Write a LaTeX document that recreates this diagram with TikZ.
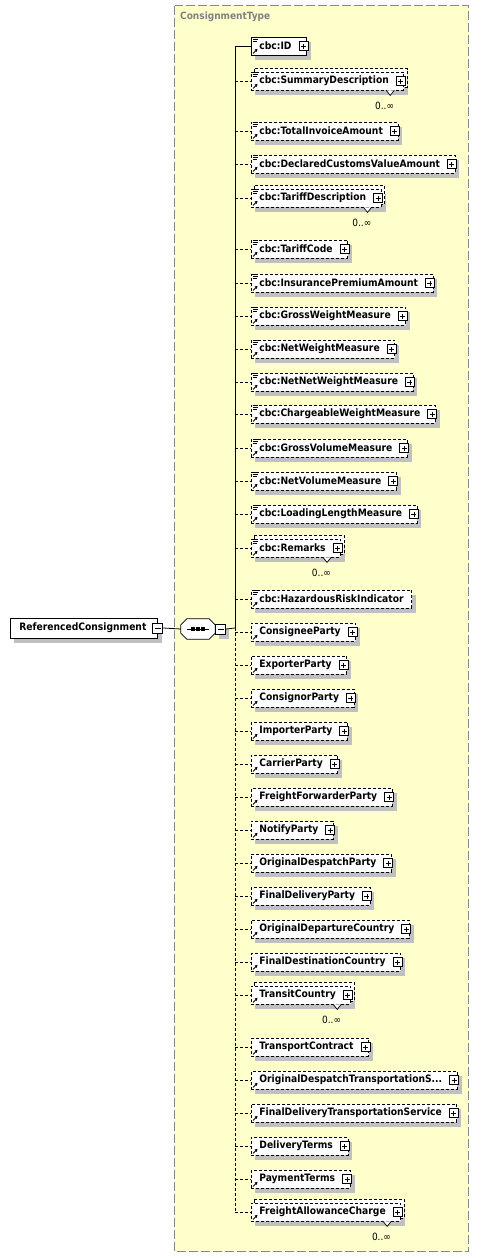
\documentclass[tikz,border=0pt]{standalone}
\usepackage{fontspec}
\setmainfont{DejaVu Sans Condensed}
\usetikzlibrary{arrows.meta}
\definecolor{ybg}{RGB}{255,255,204}
\definecolor{yborder}{RGB}{136,136,136}
\definecolor{shadowc}{RGB}{192,192,192}
\definecolor{titlec}{RGB}{128,128,128}
\pgfdeclarelayer{bgl}\pgfdeclarelayer{shadowl}\pgfdeclarelayer{backl}
\pgfsetlayers{bgl,shadowl,backl,main}
\newcommand\elfont{\fontsize{10.2}{12}\selectfont\bfseries}
\tikzset{
 elbox/.style={draw, fill=white, line width=0.8pt, anchor=west, minimum height=18pt, inner xsep=0pt, inner ysep=0pt, font=\elfont},
 dsh/.style={dash pattern=on 3pt off 2pt},
 conn/.style={line width=0.8pt},
 pmbox/.style={draw, fill=white, line width=0.8pt, minimum size=9pt, inner sep=0pt},
 plusbox/.style={pmbox, path picture={\draw[line width=0.8pt] ([xshift=2pt]path picture bounding box.west) -- ([xshift=-2pt]path picture bounding box.east); \draw[line width=0.8pt] ([yshift=2pt]path picture bounding box.south) -- ([yshift=-2pt]path picture bounding box.north);}},
 minusbox/.style={pmbox, path picture={\draw[line width=0.8pt] ([xshift=2pt]path picture bounding box.west) -- ([xshift=-2pt]path picture bounding box.east);}},
 multlab/.style={font=\fontsize{10}{12}\selectfont, inner sep=0pt, anchor=east},
}
% name, y, text, border style, plus(1/0), eq icon(1/0), multi(1/0)
\newcommand\xsdEl[7]{%
 \node[elbox,#4] (#1) at (251,#2) {\hspace*{8pt}#3\hspace*{\ifnum#5=1 15pt\else 8pt\fi}};
 \begin{pgfonlayer}{shadowl}\fill[shadowc] ([shift={(4pt,-5pt)}]#1.north west) rectangle ([shift={(4pt,-5pt)}]#1.south east);\end{pgfonlayer}
 \ifnum#7=1
  \begin{pgfonlayer}{backl}\draw[fill=white,line width=0.8pt,#4] ([shift={(3pt,3pt)}]#1.north west) rectangle ([shift={(3pt,3pt)}]#1.south east);\end{pgfonlayer}
  \draw[fill=white, line width=0.7pt] ([xshift=-18pt]#1.south east) -- ([shift={(-14pt,-5pt)}]#1.south east) -- ([xshift=-10pt]#1.south east);
  \node[multlab] (#1m) at ([shift={(-10pt,-15pt)}]#1.south east) {0..∞};
 \fi
 \ifnum#6=1
  \draw[line width=0.8pt] ([shift={(1.5pt,-1pt)}]#1.north west) -- ++(5pt,0pt) ([shift={(1.5pt,-3pt)}]#1.north west) -- ++(5pt,0pt) ([shift={(1.5pt,-5pt)}]#1.north west) -- ++(4pt,0pt);
 \fi
 \draw[line width=0.9pt, -{Triangle[length=2.6pt,width=3pt]}] ([shift={(2pt,2pt)}]#1.south west) -- ([shift={(6.5pt,6.5pt)}]#1.south west);
 \ifnum#5=1 \node[plusbox] (#1p) at ([xshift=-3.5pt]#1.east) {};\fi
 \coordinate (#1c) at (235,#2);
 \draw[conn,#4] (#1c) -- (#1.west);
}
\begin{document}
\begin{tikzpicture}[x=1pt,y=-1pt]
\useasboundingbox (0,0) rectangle (480,1258);
\begin{pgfonlayer}{bgl}
\fill[white] (0,0) rectangle (480,1258);
\draw[fill=ybg, draw=yborder, line width=1pt, dash pattern=on 9pt off 3pt] (174.5,5.5) rectangle (468.5,1251.5);
\end{pgfonlayer}
\node[anchor=west, font=\fontsize{10}{12}\selectfont\bfseries, text=titlec, inner sep=0pt] (ctitle) at (180,17) {ConsignmentType};

\xsdEl{e1}{46}{cbc:ID}{solid}{1}{1}{0}
\xsdEl{e2}{81}{cbc:SummaryDescription}{dsh}{1}{1}{1}
\xsdEl{e3}{131}{cbc:TotalInvoiceAmount}{dsh}{1}{1}{0}
\xsdEl{e4}{164}{cbc:DeclaredCustomsValueAmount}{dsh}{1}{1}{0}
\xsdEl{e5}{198}{cbc:TariffDescription}{dsh}{1}{1}{1}
\xsdEl{e6}{249}{cbc:TariffCode}{dsh}{1}{1}{0}
\xsdEl{e7}{283}{cbc:InsurancePremiumAmount}{dsh}{1}{1}{0}
\xsdEl{e8}{316}{cbc:GrossWeightMeasure}{dsh}{1}{1}{0}
\xsdEl{e9}{349}{cbc:NetWeightMeasure}{dsh}{1}{1}{0}
\xsdEl{e10}{382}{cbc:NetNetWeightMeasure}{dsh}{1}{1}{0}
\xsdEl{e11}{414}{cbc:ChargeableWeightMeasure}{dsh}{1}{1}{0}
\xsdEl{e12}{448}{cbc:GrossVolumeMeasure}{dsh}{1}{1}{0}
\xsdEl{e13}{481}{cbc:NetVolumeMeasure}{dsh}{1}{1}{0}
\xsdEl{e14}{514}{cbc:LoadingLengthMeasure}{dsh}{1}{1}{0}
\xsdEl{e15}{548}{cbc:Remarks}{dsh}{1}{1}{1}
\xsdEl{e16}{599}{cbc:HazardousRiskIndicator}{dsh}{0}{1}{0}
\xsdEl{e17}{632}{ConsigneeParty}{dsh}{1}{0}{0}
\xsdEl{e18}{665}{ExporterParty}{dsh}{1}{0}{0}
\xsdEl{e19}{698}{ConsignorParty}{dsh}{1}{0}{0}
\xsdEl{e20}{731}{ImporterParty}{dsh}{1}{0}{0}
\xsdEl{e21}{764}{CarrierParty}{dsh}{1}{0}{0}
\xsdEl{e22}{797}{FreightForwarderParty}{dsh}{1}{0}{0}
\xsdEl{e23}{830}{NotifyParty}{dsh}{1}{0}{0}
\xsdEl{e24}{863}{OriginalDespatchParty}{dsh}{1}{0}{0}
\xsdEl{e25}{896}{FinalDeliveryParty}{dsh}{1}{0}{0}
\xsdEl{e26}{929}{OriginalDepartureCountry}{dsh}{1}{0}{0}
\xsdEl{e27}{962}{FinalDestinationCountry}{dsh}{1}{0}{0}
\xsdEl{e28}{995}{TransitCountry}{dsh}{1}{0}{1}
\xsdEl{e29}{1047}{TransportContract}{dsh}{1}{0}{0}
\xsdEl{e30}{1080}{OriginalDespatchTransportationS...}{dsh}{1}{0}{0}
\xsdEl{e31}{1113}{FinalDeliveryTransportationService}{dsh}{1}{0}{0}
\xsdEl{e32}{1146}{DeliveryTerms}{dsh}{1}{0}{0}
\xsdEl{e33}{1179}{PaymentTerms}{dsh}{1}{0}{0}
\xsdEl{e34}{1212}{FreightAllowanceCharge}{dsh}{1}{0}{1}

% root element
\node[elbox, minimum height=20pt] (root) at (10,628) {\hspace*{9pt}ReferencedConsignment\hspace*{11pt}};
\begin{pgfonlayer}{shadowl}\fill[shadowc] ([shift={(4pt,-5pt)}]root.north west) rectangle ([shift={(4pt,-5pt)}]root.south east);\end{pgfonlayer}
\node[minusbox, minimum size=10pt] (rootm) at (root.east) {};

% sequence compositor
\node[inner sep=0pt, minimum width=34pt, minimum height=20pt] (seq) at (198,629) {};
\begin{pgfonlayer}{shadowl}
\fill[shadowc, shift={(4pt,-5pt)}] ([xshift=6pt]seq.north west) -- ([xshift=-6pt]seq.north east) -- ([yshift=-6pt]seq.north east) -- ([yshift=6pt]seq.south east) -- ([xshift=-6pt]seq.south east) -- ([xshift=6pt]seq.south west) -- ([yshift=6pt]seq.south west) -- ([yshift=-6pt]seq.north west) -- cycle;
\fill[shadowc] ([shift={(4pt,-5pt)}]seq.east) ++(0pt,5pt) rectangle ++(10pt,-10pt);
\end{pgfonlayer}
\draw[fill=white, line width=0.8pt] ([xshift=6pt]seq.north west) -- ([xshift=-6pt]seq.north east) -- ([yshift=-6pt]seq.north east) -- ([yshift=6pt]seq.south east) -- ([xshift=-6pt]seq.south east) -- ([xshift=6pt]seq.south west) -- ([yshift=6pt]seq.south west) -- ([yshift=-6pt]seq.north west) -- cycle;
\draw[line width=0.8pt] ([xshift=-11pt]seq.center) -- ([xshift=11pt]seq.center);
\fill ([xshift=-5pt]seq.center) +(-1.6pt,-1.6pt) rectangle +(1.6pt,1.6pt);
\fill (seq.center) +(-1.6pt,-1.6pt) rectangle +(1.6pt,1.6pt);
\fill ([xshift=5pt]seq.center) +(-1.6pt,-1.6pt) rectangle +(1.6pt,1.6pt);
\node[minusbox, minimum size=10pt, anchor=west] (seqm) at (seq.east) {};
\coordinate (seqj) at (235,628);

% connectors
\draw[conn] (rootm.east) -- (seq.west);
\draw[conn] (seqm.east) -- (seqj);
\draw[conn] (e1c) -- (seqj);
\draw[conn,dsh] (seqj) -- (e34c);
\end{tikzpicture}
\end{document}
